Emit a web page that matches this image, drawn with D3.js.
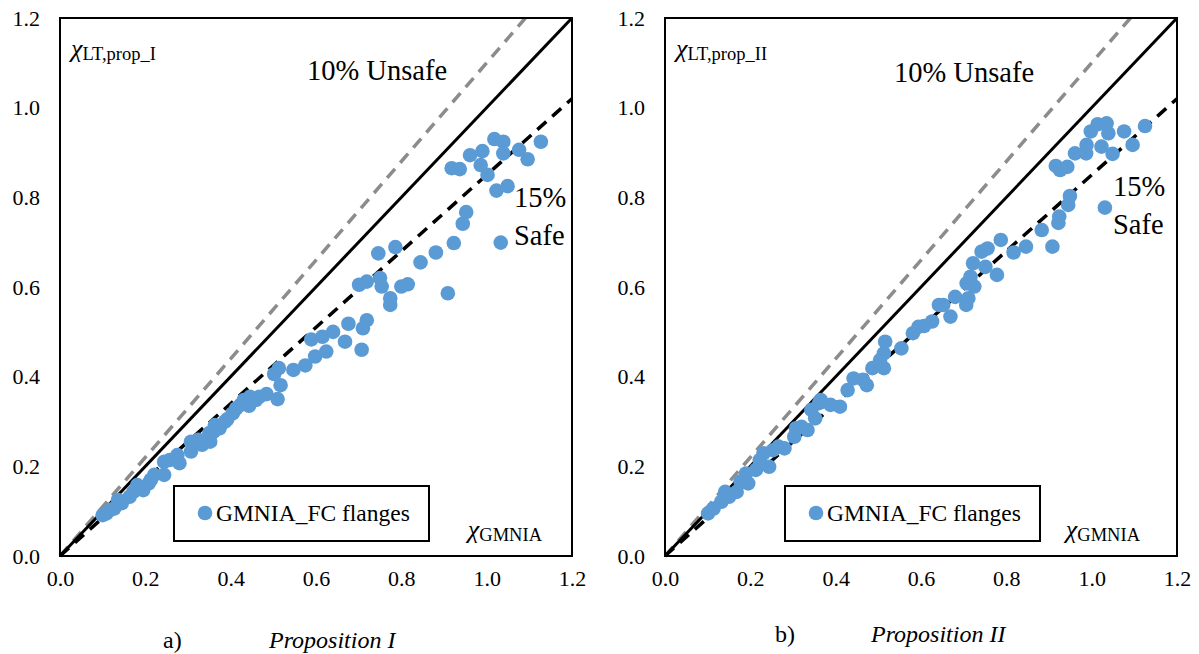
<!DOCTYPE html>
<html>
<head>
<meta charset="utf-8">
<script src="https://cdn.jsdelivr.net/npm/d3@7"></script>
<style>
  body { margin: 0; background: #fff; }
  text { font-family: "Liberation Serif", "Times New Roman", "DejaVu Serif", serif; fill: #000; }
</style>
</head>
<body>
<script>
const width = 1199;
const height = 654;

// axis ticks (both panels share them)
const xTicks = [0, 0.2, 0.4, 0.6, 0.8, 1.0, 1.2];
const yTicks = [0, 0.2, 0.4, 0.6, 0.8, 1.0, 1.2];

// reference lines y = k * x : 10% unsafe, exact, 15% safe
const refSlopes = [1.1, 1.0, 0.85];

// chi_GMNIA vs chi_LT,prop_I
const propI = [
  [0.100, 0.091], [0.109, 0.095], [0.118, 0.103], [0.127, 0.106], [0.136, 0.125],
  [0.145, 0.118], [0.163, 0.132], [0.172, 0.143], [0.181, 0.158], [0.195, 0.147],
  [0.208, 0.162], [0.213, 0.170], [0.221, 0.181], [0.244, 0.181], [0.244, 0.210],
  [0.257, 0.214], [0.275, 0.225], [0.280, 0.207], [0.307, 0.233], [0.307, 0.255],
  [0.324, 0.259], [0.333, 0.248], [0.350, 0.274], [0.352, 0.255], [0.360, 0.277],
  [0.363, 0.292], [0.374, 0.285], [0.387, 0.300], [0.392, 0.305], [0.405, 0.318],
  [0.413, 0.329], [0.423, 0.337], [0.431, 0.348], [0.443, 0.335], [0.445, 0.355],
  [0.459, 0.348], [0.467, 0.355], [0.484, 0.361], [0.502, 0.406], [0.510, 0.350],
  [0.513, 0.419], [0.517, 0.381], [0.547, 0.415], [0.575, 0.425], [0.589, 0.483],
  [0.598, 0.445], [0.615, 0.489], [0.624, 0.456], [0.640, 0.500], [0.668, 0.478],
  [0.676, 0.518], [0.707, 0.460], [0.710, 0.508], [0.719, 0.526], [0.701, 0.605],
  [0.719, 0.612], [0.746, 0.675], [0.750, 0.620], [0.754, 0.601], [0.774, 0.575],
  [0.774, 0.560], [0.786, 0.689], [0.800, 0.601], [0.815, 0.606], [0.845, 0.655],
  [0.881, 0.677], [0.909, 0.586], [0.923, 0.698], [0.944, 0.741], [0.952, 0.767],
  [0.918, 0.865], [0.937, 0.863], [0.961, 0.894], [0.986, 0.872], [0.990, 0.903],
  [1.002, 0.850], [1.018, 0.930], [1.023, 0.815], [1.033, 0.699], [1.039, 0.924],
  [1.039, 0.898], [1.049, 0.825], [1.076, 0.906], [1.096, 0.885], [1.127, 0.924]
];

// chi_GMNIA vs chi_LT,prop_II
const propII = [
  [0.101, 0.095], [0.114, 0.106], [0.132, 0.121], [0.141, 0.143], [0.150, 0.132],
  [0.168, 0.143], [0.177, 0.166], [0.190, 0.184], [0.195, 0.162], [0.213, 0.192],
  [0.222, 0.214], [0.231, 0.229], [0.244, 0.199], [0.253, 0.236], [0.266, 0.244],
  [0.280, 0.240], [0.303, 0.266], [0.307, 0.285], [0.320, 0.288], [0.334, 0.281],
  [0.343, 0.326], [0.352, 0.307], [0.361, 0.341], [0.365, 0.348], [0.388, 0.337],
  [0.410, 0.333], [0.428, 0.370], [0.442, 0.396], [0.464, 0.393], [0.473, 0.381],
  [0.486, 0.419], [0.504, 0.437], [0.513, 0.419], [0.513, 0.452], [0.516, 0.478],
  [0.554, 0.463], [0.581, 0.497], [0.594, 0.511], [0.607, 0.513], [0.626, 0.523],
  [0.642, 0.560], [0.652, 0.560], [0.669, 0.534], [0.680, 0.578], [0.706, 0.560],
  [0.707, 0.608], [0.711, 0.575], [0.716, 0.623], [0.722, 0.653], [0.725, 0.601],
  [0.742, 0.679], [0.751, 0.645], [0.756, 0.686], [0.778, 0.627], [0.787, 0.705],
  [0.817, 0.677], [0.846, 0.690], [0.883, 0.727], [0.908, 0.690], [0.922, 0.743],
  [0.924, 0.757], [0.945, 0.783], [0.949, 0.803], [0.916, 0.870], [0.926, 0.861],
  [0.943, 0.868], [0.961, 0.898], [0.987, 0.898], [0.988, 0.917], [0.998, 0.947],
  [1.014, 0.963], [1.023, 0.913], [1.031, 0.777], [1.035, 0.965], [1.039, 0.943],
  [1.049, 0.897], [1.076, 0.947], [1.096, 0.917], [1.125, 0.959]
];

const svg = d3.select('body').append('svg')
    .attr('width', width)
    .attr('height', height);

const plotTop = 18, plotBottom = 556;

const panels = [
  { left: 60, data: propI, sub: 'LT,prop_I',
    unsafe: [247, 80], safe15: [454, 207], safe: [454, 245],
    legend: 114, gmnia: 482, letter: [103, 648], caption: [209, 648], captionText: 'Proposition I', letterText: 'a)' },
  { left: 665, data: propII, sub: 'LT,prop_II',
    unsafe: [229, 82], safe15: [448, 196], safe: [448, 234],
    legend: 120, gmnia: 475, letter: [110, 642], caption: [206, 642], captionText: 'Proposition II', letterText: 'b)' }
];

panels.forEach(p => drawPanel(p));

function drawPanel(p) {
  const x = d3.scaleLinear().domain([0, 1.2]).range([p.left, p.left + 512]);
  const y = d3.scaleLinear().domain([0, 1.2]).range([plotBottom, plotTop]);
  const g = svg.append('g');

  // tick labels only, no tick marks
  g.append('g')
      .attr('transform', `translate(0,${plotBottom})`)
      .attr('font-family', null)
      .call(d3.axisBottom(x).tickValues(xTicks).tickFormat(d3.format('.1f')).tickSize(0).tickPadding(14))
      .call(a => a.select('.domain').remove())
      .selectAll('text')
      .attr('font-size', 22);

  g.append('g')
      .attr('transform', `translate(${p.left},0)`)
      .call(d3.axisLeft(y).tickValues(yTicks).tickFormat(d3.format('.1f')).tickSize(0).tickPadding(20))
      .call(a => a.select('.domain').remove())
      .selectAll('text')
      .attr('font-size', 22);

  // reference lines
  const lineStyle = [
    { stroke: '#8c8c8c', dash: '12,8', w: 3.5 },
    { stroke: '#000', dash: null, w: 3 },
    { stroke: '#000', dash: '12,8', w: 3.5 }
  ];
  refSlopes.forEach((k, i) => {
    const xe = Math.min(1.2, 1.2 / k);
    g.append('line')
        .attr('x1', x(0)).attr('y1', y(0))
        .attr('x2', x(xe)).attr('y2', y(k * xe))
        .attr('stroke', lineStyle[i].stroke)
        .attr('stroke-width', lineStyle[i].w)
        .attr('stroke-dasharray', lineStyle[i].dash);
  });

  // scatter
  g.append('g').selectAll('circle')
      .data(p.data)
      .enter()
      .append('circle')
      .attr('cx', d => x(d[0]))
      .attr('cy', d => y(d[1]))
      .attr('r', 7.3)
      .attr('fill', '#5b9bd5');

  // plot frame
  g.append('rect')
      .attr('x', x(0)).attr('y', plotTop)
      .attr('width', x(1.2) - x(0)).attr('height', plotBottom - plotTop)
      .attr('fill', 'none')
      .attr('stroke', '#000')
      .attr('stroke-width', 2);

  // axis titles inside the plot
  const yt = g.append('text').attr('x', p.left + 11).attr('y', 57);
  yt.append('tspan').attr('font-size', 26).attr('font-style', 'italic').text('χ');
  yt.append('tspan').attr('font-size', 18.5).attr('dy', 3).text(p.sub);

  const xt = g.append('text').attr('x', p.left + p.gmnia).attr('y', 538).attr('text-anchor', 'end');
  xt.append('tspan').attr('font-size', 26).attr('font-style', 'italic').text('χ');
  xt.append('tspan').attr('font-size', 18.5).attr('dy', 3).text('GMNIA');

  g.append('text').attr('x', p.left + p.unsafe[0]).attr('y', p.unsafe[1])
      .attr('font-size', 28.5).text('10% Unsafe');
  g.append('text').attr('x', p.left + p.safe15[0]).attr('y', p.safe15[1])
      .attr('font-size', 28.5).text('15%');
  g.append('text').attr('x', p.left + p.safe[0]).attr('y', p.safe[1])
      .attr('font-size', 28.5).text('Safe');

  // legend
  const lx = p.left + p.legend;
  g.append('rect')
      .attr('x', lx).attr('y', 486)
      .attr('width', 255).attr('height', 55)
      .attr('fill', '#fff')
      .attr('stroke', '#000')
      .attr('stroke-width', 2);
  g.append('circle')
      .attr('cx', lx + 31).attr('cy', 513)
      .attr('r', 7.3)
      .attr('fill', '#5b9bd5');
  g.append('text')
      .attr('x', lx + 42).attr('y', 521)
      .attr('font-size', 23.5)
      .text('GMNIA_FC flanges');

  // caption
  g.append('text').attr('x', p.left + p.letter[0]).attr('y', p.letter[1])
      .attr('font-size', 24).text(p.letterText);
  g.append('text').attr('x', p.left + p.caption[0]).attr('y', p.caption[1])
      .attr('font-size', 24).attr('font-style', 'italic').text(p.captionText);
}
</script>
</body>
</html>
